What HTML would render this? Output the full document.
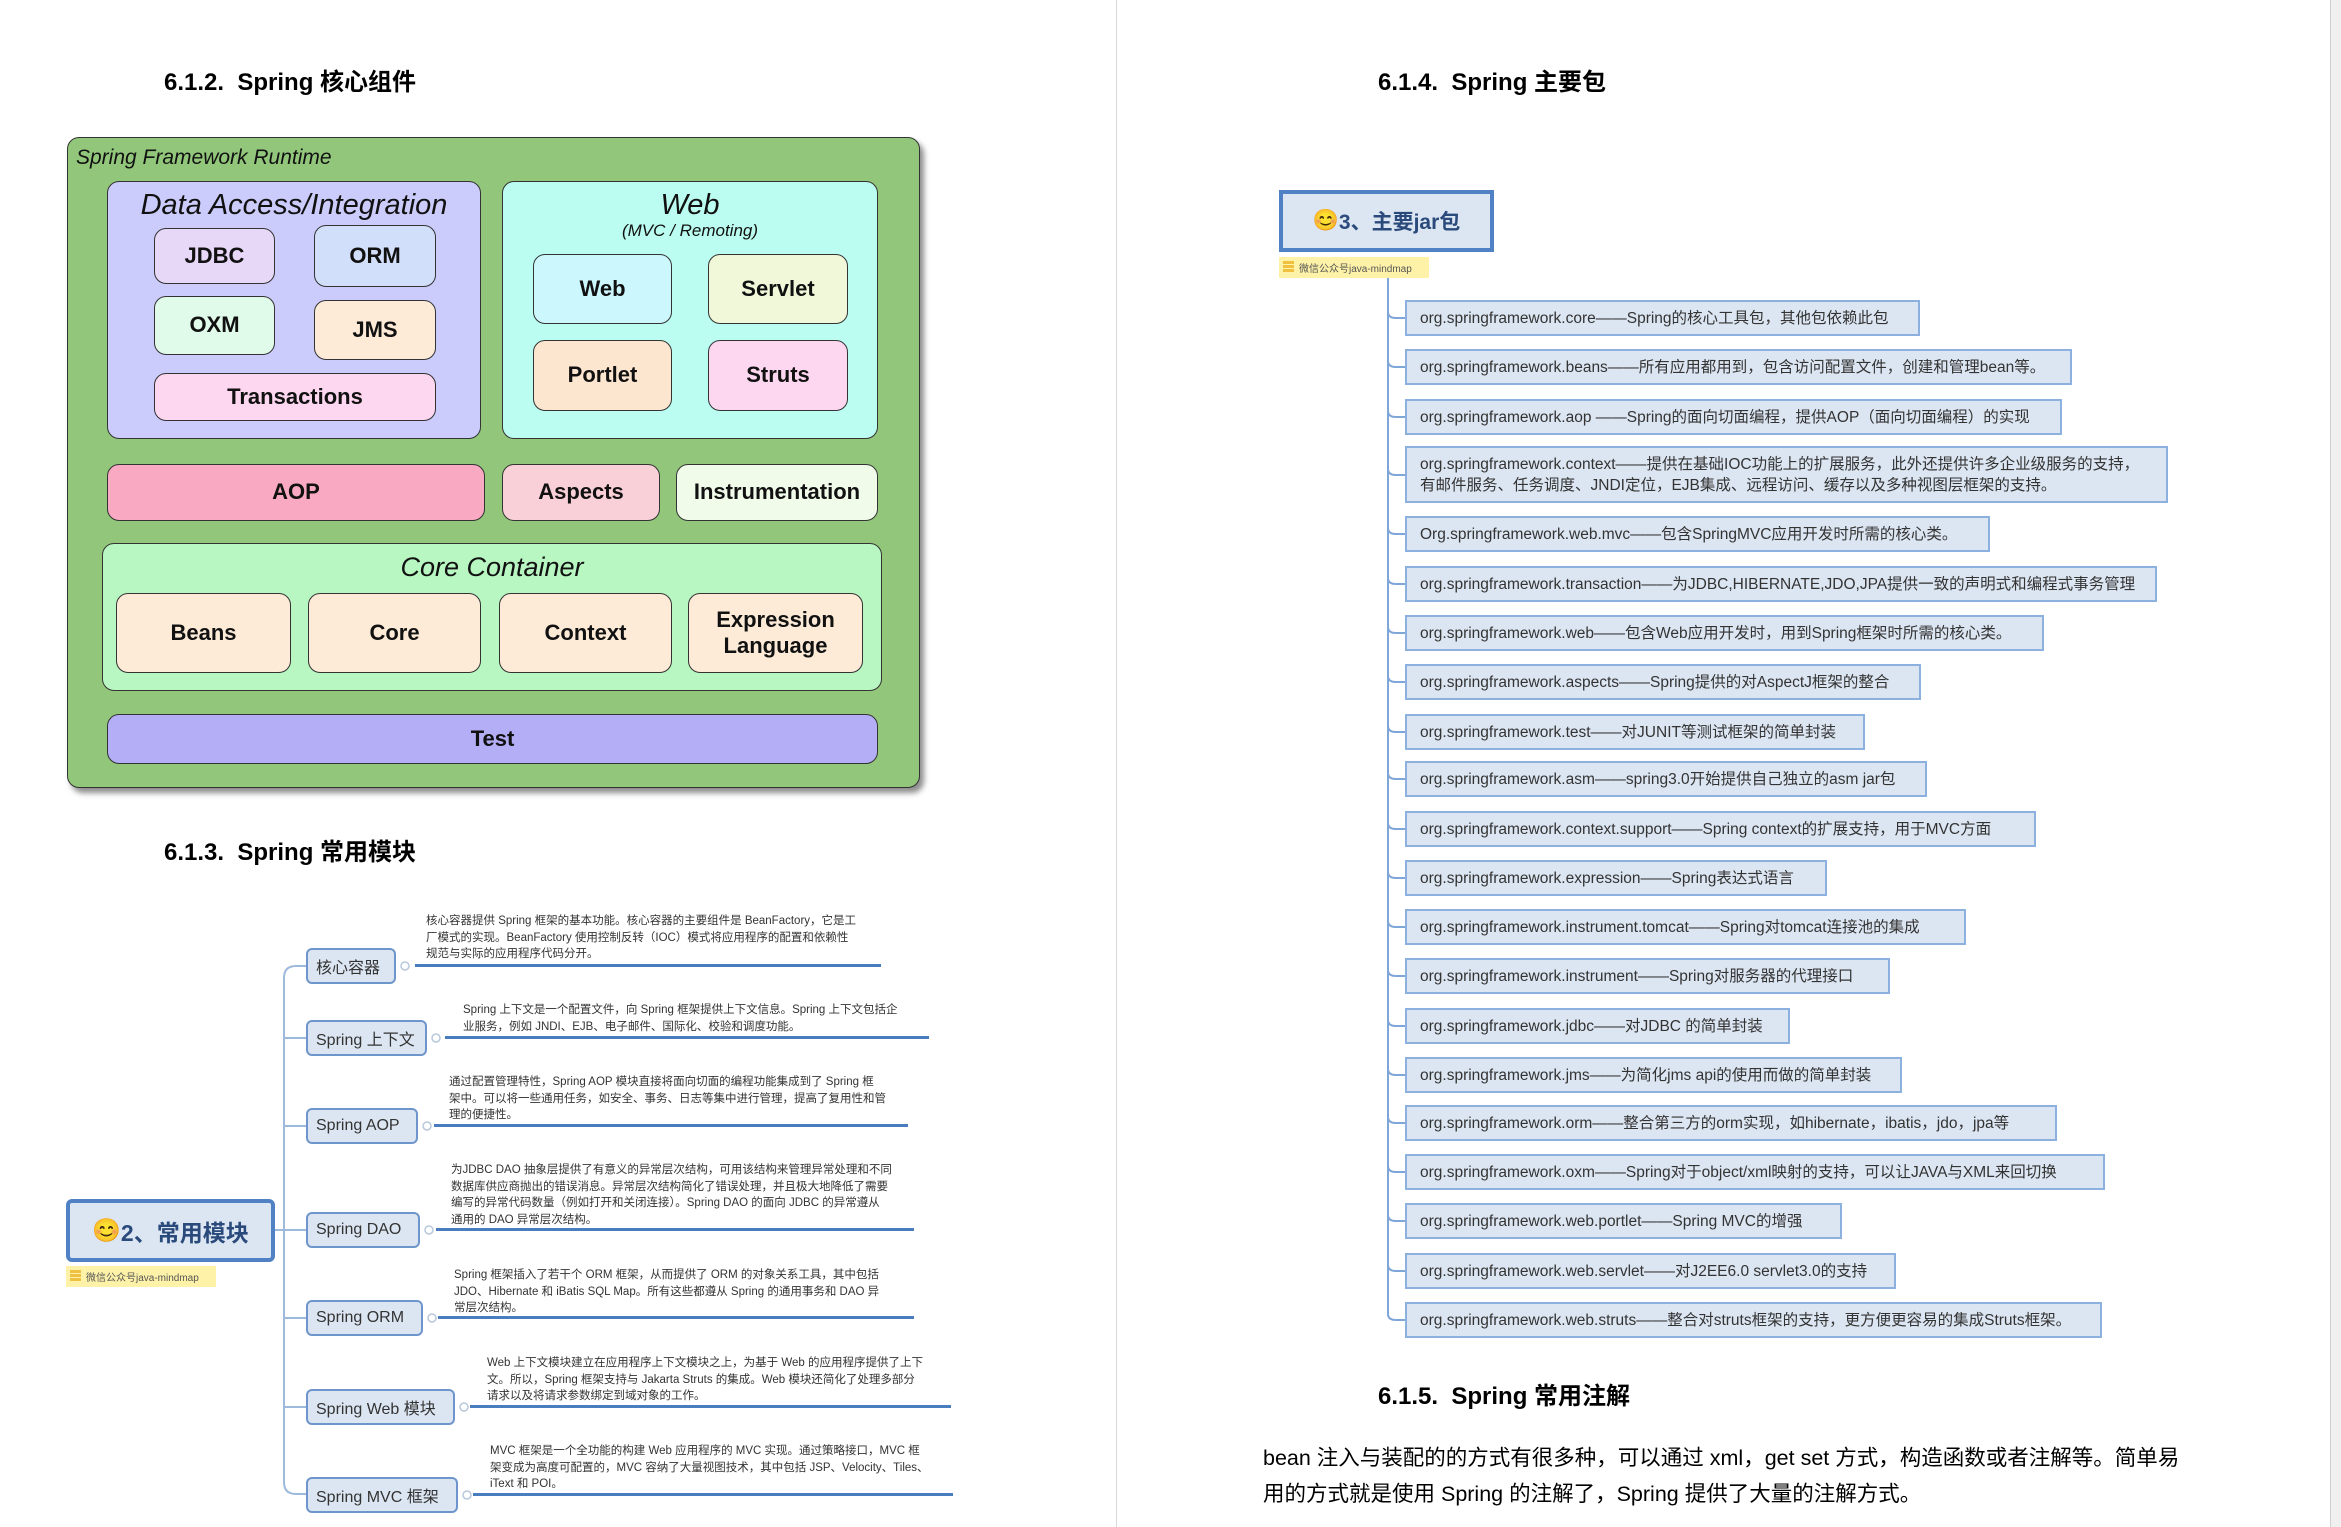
<!DOCTYPE html>
<html><head><meta charset="utf-8">
<style>
*{margin:0;padding:0;box-sizing:border-box}
body{width:2341px;height:1527px;background:#fff;position:relative;overflow:hidden;font-family:"Liberation Sans","Noto Sans CJK SC",sans-serif;color:#000}
.a{position:absolute}
.h{position:absolute;font-weight:bold;font-size:24px;white-space:nowrap}
.b{position:absolute;border:1.5px solid #333;border-radius:12px;display:flex;align-items:center;justify-content:center;font-weight:bold;font-size:22px;text-align:center;line-height:1.2;color:#111}
.ti{position:absolute;font-style:italic;white-space:nowrap;color:#111}
.node{position:absolute;background:#dce6f2;border:2px solid #6f96cc;border-radius:6px;font-size:16px;color:#333;display:flex;align-items:center;padding-left:8px;white-space:nowrap}
.desc{position:absolute;font-size:11.5px;line-height:16.5px;color:#333;white-space:nowrap}
.ul{position:absolute;height:3px;background:#4a7cc0}
.it{position:absolute;left:1405px;background:#dce6f2;border:2px solid #8db1df;font-size:15.5px;color:#333;padding-left:13px;white-space:nowrap;overflow:hidden;display:flex;align-items:center;line-height:21px}
.wm{position:absolute;background:#fdf2a8;font-size:10px;color:#555;padding-left:20px;white-space:nowrap;display:flex;align-items:center}
.wm:before{content:"";position:absolute;left:4px;top:4px;width:11px;height:12px;background:repeating-linear-gradient(#f0c040 0 3px,#fdf2a8 3px 4px)}
</style></head><body>
<div class="a" style="left:1116px;top:0;width:1px;height:1527px;background:#d8d8d8"></div>
<div class="a" style="left:2330px;top:0;width:11px;height:1527px;background:#f0f0f0;border-left:1px solid #d0d0d0"></div>

<div class="h" style="left:164px;top:62px">6.1.2.&nbsp; Spring 核心组件</div>

<div class="a" style="left:67px;top:137px;width:853px;height:651px;background:#92c77b;border:1.5px solid #333;border-radius:12px;box-shadow:4px 5px 6px rgba(0,0,0,.45)"></div>
<div class="ti" style="left:76px;top:146px;font-size:21px">Spring Framework Runtime</div>
<div class="a" style="left:107px;top:181px;width:374px;height:258px;background:#ccccfc;border:1.5px solid #333;border-radius:12px"></div>
<div class="ti" style="left:107px;width:374px;text-align:center;top:189px;font-size:29px">Data Access/Integration</div>
<div class="b" style="left:154px;top:228px;width:121px;height:56px;background:#e8d8f8">JDBC</div>
<div class="b" style="left:314px;top:225px;width:122px;height:62px;background:#d2dffa">ORM</div>
<div class="b" style="left:154px;top:296px;width:121px;height:59px;background:#e0fbea">OXM</div>
<div class="b" style="left:314px;top:300px;width:122px;height:60px;background:#fdebd8">JMS</div>
<div class="b" style="left:154px;top:373px;width:282px;height:48px;background:#fdd6f0">Transactions</div>

<div class="a" style="left:502px;top:181px;width:376px;height:258px;background:#bbfdf0;border:1.5px solid #333;border-radius:12px"></div>
<div class="ti" style="left:502px;width:376px;text-align:center;top:189px;font-size:29px">Web</div>
<div class="ti" style="left:502px;width:376px;text-align:center;top:221px;font-size:17px">(MVC / Remoting)</div>
<div class="b" style="left:533px;top:254px;width:139px;height:70px;background:#ccf7fc">Web</div>
<div class="b" style="left:708px;top:254px;width:140px;height:70px;background:#f1f8da">Servlet</div>
<div class="b" style="left:533px;top:340px;width:139px;height:71px;background:#fde6d0">Portlet</div>
<div class="b" style="left:708px;top:340px;width:140px;height:71px;background:#fdd6ef">Struts</div>

<div class="b" style="left:107px;top:464px;width:378px;height:57px;background:#f9a9c2">AOP</div>
<div class="b" style="left:502px;top:464px;width:158px;height:57px;background:#f9d0d7">Aspects</div>
<div class="b" style="left:676px;top:464px;width:202px;height:57px;background:#f1fbea">Instrumentation</div>

<div class="a" style="left:102px;top:543px;width:780px;height:148px;background:#b8f6c2;border:1.5px solid #333;border-radius:12px"></div>
<div class="ti" style="left:102px;width:780px;text-align:center;top:552px;font-size:27px">Core Container</div>
<div class="b" style="left:116px;top:593px;width:175px;height:80px;background:#fdebd8">Beans</div>
<div class="b" style="left:308px;top:593px;width:173px;height:80px;background:#fdebd8">Core</div>
<div class="b" style="left:499px;top:593px;width:173px;height:80px;background:#fdebd8">Context</div>
<div class="b" style="left:688px;top:593px;width:175px;height:80px;background:#fdebd8">Expression<br>Language</div>
<div class="b" style="left:107px;top:714px;width:771px;height:50px;background:#b4aef6">Test</div>

<div class="h" style="left:164px;top:832px">6.1.3.&nbsp; Spring 常用模块</div>

<svg class="a" style="left:0;top:0" width="1116" height="1527">
<g fill="none" stroke="#9db9dc" stroke-width="2">
<path d="M306 966 H296 Q284 966 284 978 V1482 Q284 1494 296 1494 H306"/>
<path d="M284 1038 H306 M284 1126 H306 M284 1230 H306 M275 1230 H284 M284 1318 H306 M284 1407 H306"/>
</g>
<g fill="#fff" stroke="#b8c8dc" stroke-width="1.5">
<circle cx="405" cy="966" r="4"/><circle cx="436" cy="1038" r="4"/><circle cx="427" cy="1126" r="4"/><circle cx="429" cy="1230" r="4"/><circle cx="432" cy="1318" r="4"/><circle cx="464" cy="1407" r="4"/><circle cx="467" cy="1495" r="4"/>
</g>
</svg>
<div class="a" style="left:66px;top:1199px;width:209px;height:63px;background:#dce6f2;border:4px solid #4f81c4;border-radius:6px;display:flex;align-items:center;justify-content:center;font-size:23px;font-weight:bold;color:#2a4a7c;white-space:nowrap"><span style="color:#f0b020">😊</span>2、常用模块</div>
<div class="wm" style="left:66px;top:1266px;width:150px;height:21px">微信公众号java-mindmap</div>

<div class="node" style="left:306px;top:948px;width:90px;height:36px">核心容器</div>
<div class="node" style="left:306px;top:1020px;width:121px;height:36px">Spring 上下文</div>
<div class="node" style="left:306px;top:1108px;width:112px;height:36px">Spring AOP</div>
<div class="node" style="left:306px;top:1212px;width:114px;height:36px">Spring DAO</div>
<div class="node" style="left:306px;top:1300px;width:117px;height:36px">Spring ORM</div>
<div class="node" style="left:306px;top:1389px;width:149px;height:36px">Spring Web 模块</div>
<div class="node" style="left:306px;top:1477px;width:152px;height:36px">Spring MVC 框架</div>

<div class="desc" style="left:426px;top:913px">核心容器提供 Spring 框架的基本功能。核心容器的主要组件是 BeanFactory，它是工<br>厂模式的实现。BeanFactory 使用控制反转（IOC）模式将应用程序的配置和依赖性<br>规范与实际的应用程序代码分开。</div>
<div class="ul" style="left:415px;top:964px;width:466px"></div>
<div class="desc" style="left:463px;top:1002px">Spring 上下文是一个配置文件，向 Spring 框架提供上下文信息。Spring 上下文包括企<br>业服务，例如 JNDI、EJB、电子邮件、国际化、校验和调度功能。</div>
<div class="ul" style="left:445px;top:1036px;width:484px"></div>
<div class="desc" style="left:449px;top:1074px">通过配置管理特性，Spring AOP 模块直接将面向切面的编程功能集成到了 Spring 框<br>架中。可以将一些通用任务，如安全、事务、日志等集中进行管理，提高了复用性和管<br>理的便捷性。</div>
<div class="ul" style="left:434px;top:1124px;width:474px"></div>
<div class="desc" style="left:451px;top:1162px">为JDBC DAO 抽象层提供了有意义的异常层次结构，可用该结构来管理异常处理和不同<br>数据库供应商抛出的错误消息。异常层次结构简化了错误处理，并且极大地降低了需要<br>编写的异常代码数量（例如打开和关闭连接）。Spring DAO 的面向 JDBC 的异常遵从<br>通用的 DAO 异常层次结构。</div>
<div class="ul" style="left:436px;top:1228px;width:478px"></div>
<div class="desc" style="left:454px;top:1267px">Spring 框架插入了若干个 ORM 框架，从而提供了 ORM 的对象关系工具，其中包括<br>JDO、Hibernate 和 iBatis SQL Map。所有这些都遵从 Spring 的通用事务和 DAO 异<br>常层次结构。</div>
<div class="ul" style="left:438px;top:1316px;width:476px"></div>
<div class="desc" style="left:487px;top:1355px">Web 上下文模块建立在应用程序上下文模块之上，为基于 Web 的应用程序提供了上下<br>文。所以，Spring 框架支持与 Jakarta Struts 的集成。Web 模块还简化了处理多部分<br>请求以及将请求参数绑定到域对象的工作。</div>
<div class="ul" style="left:470px;top:1405px;width:481px"></div>
<div class="desc" style="left:490px;top:1443px">MVC 框架是一个全功能的构建 Web 应用程序的 MVC 实现。通过策略接口，MVC 框<br>架变成为高度可配置的，MVC 容纳了大量视图技术，其中包括 JSP、Velocity、Tiles、<br>iText 和 POI。</div>
<div class="ul" style="left:473px;top:1493px;width:480px"></div>

<div class="h" style="left:1378px;top:62px">6.1.4.&nbsp; Spring 主要包</div>
<div class="a" style="left:1279px;top:190px;width:215px;height:62px;background:#dce6f2;border:4px solid #4f81c4;display:flex;align-items:center;justify-content:center;font-size:21px;font-weight:bold;color:#2a4a7c;white-space:nowrap"><span style="color:#f0b020">😊</span>3、主要jar包</div>
<div class="wm" style="left:1279px;top:257px;width:150px;height:21px">微信公众号java-mindmap</div>
<svg class="a" style="left:1380px;top:278px" width="30" height="1060">
<g fill="none" stroke="#7fa6d8" stroke-width="2">
<path d="M8 0 V1036 Q8 1042 16 1042 H25"/>
<path d="M8 34 Q8 40 16 40 H25 M8 83 Q8 89 16 89 H25 M8 133 Q8 139 16 139 H25 M8 191 Q8 197 16 197 H25 M8 250 Q8 256 16 256 H25 M8 300 Q8 306 16 306 H25 M8 349 Q8 355 16 355 H25 M8 398 Q8 404 16 404 H25 M8 448 Q8 454 16 454 H25 M8 495 Q8 501 16 501 H25 M8 545 Q8 551 16 551 H25 M8 594 Q8 600 16 600 H25 M8 643 Q8 649 16 649 H25 M8 692 Q8 698 16 698 H25 M8 742 Q8 748 16 748 H25 M8 791 Q8 797 16 797 H25 M8 839 Q8 845 16 845 H25 M8 888 Q8 894 16 894 H25 M8 937 Q8 943 16 943 H25 M8 987 Q8 993 16 993 H25"/>
</g></svg>

<div class="it" style="top:300px;width:515px;height:36px">org.springframework.core——Spring的核心工具包，其他包依赖此包</div>
<div class="it" style="top:349px;width:667px;height:36px">org.springframework.beans——所有应用都用到，包含访问配置文件，创建和管理bean等。</div>
<div class="it" style="top:399px;width:657px;height:36px">org.springframework.aop ——Spring的面向切面编程，提供AOP（面向切面编程）的实现</div>
<div class="it" style="top:446px;width:763px;height:57px">org.springframework.context——提供在基础IOC功能上的扩展服务，此外还提供许多企业级服务的支持，<br>有邮件服务、任务调度、JNDI定位，EJB集成、远程访问、缓存以及多种视图层框架的支持。</div>
<div class="it" style="top:516px;width:585px;height:36px">Org.springframework.web.mvc——包含SpringMVC应用开发时所需的核心类。</div>
<div class="it" style="top:566px;width:752px;height:36px">org.springframework.transaction——为JDBC,HIBERNATE,JDO,JPA提供一致的声明式和编程式事务管理</div>
<div class="it" style="top:615px;width:639px;height:36px">org.springframework.web——包含Web应用开发时，用到Spring框架时所需的核心类。</div>
<div class="it" style="top:664px;width:516px;height:36px">org.springframework.aspects——Spring提供的对AspectJ框架的整合</div>
<div class="it" style="top:714px;width:460px;height:36px">org.springframework.test——对JUNIT等测试框架的简单封装</div>
<div class="it" style="top:761px;width:522px;height:36px">org.springframework.asm——spring3.0开始提供自己独立的asm jar包</div>
<div class="it" style="top:811px;width:631px;height:36px">org.springframework.context.support——Spring context的扩展支持，用于MVC方面</div>
<div class="it" style="top:860px;width:422px;height:36px">org.springframework.expression——Spring表达式语言</div>
<div class="it" style="top:909px;width:561px;height:36px">org.springframework.instrument.tomcat——Spring对tomcat连接池的集成</div>
<div class="it" style="top:958px;width:485px;height:36px">org.springframework.instrument——Spring对服务器的代理接口</div>
<div class="it" style="top:1008px;width:385px;height:36px">org.springframework.jdbc——对JDBC 的简单封装</div>
<div class="it" style="top:1057px;width:497px;height:36px">org.springframework.jms——为简化jms api的使用而做的简单封装</div>
<div class="it" style="top:1105px;width:652px;height:36px">org.springframework.orm——整合第三方的orm实现，如hibernate，ibatis，jdo，jpa等</div>
<div class="it" style="top:1154px;width:700px;height:36px">org.springframework.oxm——Spring对于object/xml映射的支持，可以让JAVA与XML来回切换</div>
<div class="it" style="top:1203px;width:437px;height:36px">org.springframework.web.portlet——Spring MVC的增强</div>
<div class="it" style="top:1253px;width:491px;height:36px">org.springframework.web.servlet——对J2EE6.0 servlet3.0的支持</div>
<div class="it" style="top:1302px;width:697px;height:36px">org.springframework.web.struts——整合对struts框架的支持，更方便更容易的集成Struts框架。</div>

<div class="h" style="left:1378px;top:1376px">6.1.5.&nbsp; Spring 常用注解</div>
<div class="a" style="left:1263px;top:1440px;font-size:21.5px;line-height:36px;white-space:nowrap">bean 注入与装配的的方式有很多种，可以通过 xml，get set 方式，构造函数或者注解等。简单易<br>用的方式就是使用 Spring 的注解了，Spring 提供了大量的注解方式。</div>
</body></html>
